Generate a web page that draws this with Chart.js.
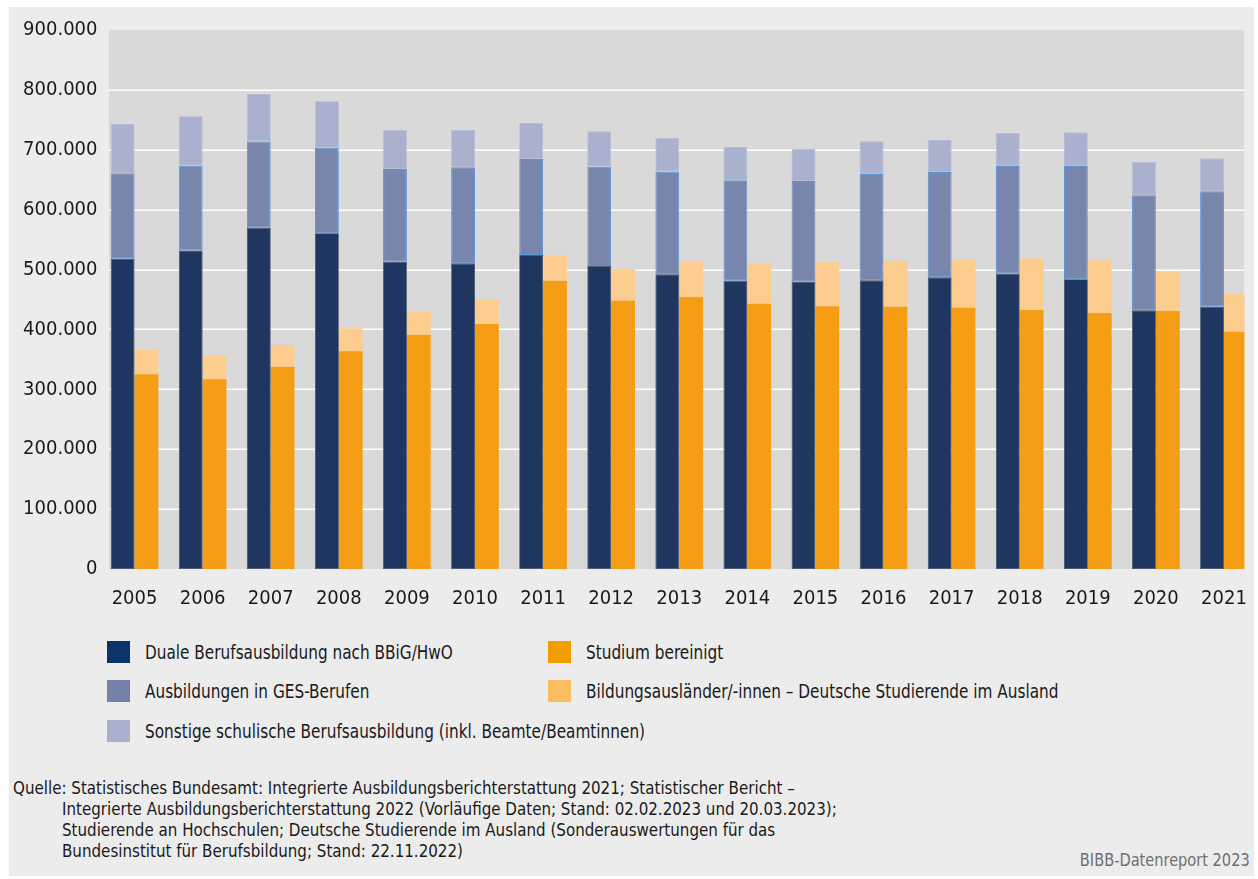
<!DOCTYPE html>
<html lang="de">
<head>
<meta charset="utf-8">
<title>Ausbildungs- und Studienanfänger 2005–2021</title>
<script src="https://cdn.jsdelivr.net/npm/chart.js@4.4.1/dist/chart.umd.min.js"></script>
<style>
  html, body { margin: 0; padding: 0; background: #fff; }
  body { width: 1258px; height: 879px; position: relative; overflow: hidden;
         font-family: "DejaVu Sans Condensed", "Liberation Sans Narrow", sans-serif; color: #1a1a1a; }
  #frame { position: absolute; left: 9px; top: 7px; width: 1245px; height: 869px; background: #ececec; }
  #chart { position: absolute; left: 0; top: 0; }
  .leg { position: absolute; height: 22px; line-height: 22px; white-space: nowrap; }
  .leg i { position: absolute; left: 0; top: 0; width: 23px; height: 22px; }
  .leg span { position: absolute; left: 38px; top: 0; font-size: 20px;
              transform: scaleX(0.85); transform-origin: 0 50%; }
  .src { position: absolute; font-size: 16.8px; line-height: 21px; white-space: nowrap; }
  #bibb { position: absolute; right: 8px; top: 849px; font-size: 18px; color: #707070; white-space: nowrap;
          transform: scaleX(0.9); transform-origin: 100% 50%; }
</style>
</head>
<body>
<div id="frame"></div>
<canvas id="chart" width="1258" height="620"></canvas>

<div class="leg" style="left:107px;top:641px"><i style="background:#0d3468"></i><span>Duale Berufsausbildung nach BBiG/HwO</span></div>
<div class="leg" style="left:107px;top:680px"><i style="background:#7580ab"></i><span>Ausbildungen in GES-Berufen</span></div>
<div class="leg" style="left:107px;top:720px"><i style="background:#aab0cf"></i><span>Sonstige schulische Berufsausbildung (inkl. Beamte/Beamtinnen)</span></div>
<div class="leg" style="left:548px;top:641px"><i style="background:#f39c00"></i><span>Studium bereinigt</span></div>
<div class="leg" style="left:548px;top:680px"><i style="background:#fbbd5f"></i><span>Bildungsausländer/-innen – Deutsche Studierende im Ausland</span></div>

<div class="src" style="left:13px;top:778px">Quelle: Statistisches Bundesamt: Integrierte Ausbildungsberichterstattung 2021; Statistischer Bericht –</div>
<div class="src" style="left:62px;top:799px">Integrierte Ausbildungsberichterstattung 2022 (Vorläufige Daten; Stand: 02.02.2023 und 20.03.2023);</div>
<div class="src" style="left:62px;top:820px">Studierende an Hochschulen; Deutsche Studierende im Ausland (Sonderauswertungen für das</div>
<div class="src" style="left:62px;top:841px">Bundesinstitut für Berufsbildung; Stand: 22.11.2022)</div>
<div id="bibb">BIBB-Datenreport 2023</div>

<script>
// Jahre (Kategorien)
const years = ['2005', '2006', '2007', '2008', '2009', '2010', '2011', '2012', '2013',
    '2014', '2015', '2016', '2017', '2018', '2019', '2020', '2021'];

// Berufsausbildung (Stapel 1)
const duale = [518000, 532000, 570000, 560500, 513000, 510400, 524300, 506000, 492000,
    481400, 479800, 482000, 487000, 493100, 483700, 431900, 438000];
const ges = [143000, 141500, 144000, 143000, 155000, 160300, 160300, 165800, 171500,
    167600, 168100, 177600, 175900, 179800, 189200, 192000, 192600];
const sonstige = [82000, 82400, 79000, 77500, 65000, 62300, 60100, 59000, 56500,
    55600, 54000, 54500, 53400, 55100, 56200, 55700, 55100];

// Studium (Stapel 2)
const studium = [325000, 316700, 337800, 363500, 391300, 409000, 481400, 448000, 454200,
    443000, 438600, 438000, 436400, 432500, 427500, 430800, 396300];
const bildungsauslaender = [41800, 39300, 36800, 38400, 37700, 40700, 42600, 53000, 60100,
    67400, 73400, 76800, 81200, 86300, 87900, 65700, 63400];

// Achse
const yMax = 900000;
const yStep = 100000;

// Grauer Plotbereich + weiße Gitterlinien
const plotBg = {
    id: 'plotBg',
    beforeDraw(chart) {
        const {ctx, chartArea, scales} = chart;
        const left = 109, right = 1244;
        ctx.save();
        ctx.fillStyle = '#d9d9d9';
        ctx.fillRect(left, chartArea.top, right - left, chartArea.bottom - chartArea.top);
        ctx.strokeStyle = '#ffffff';
        ctx.lineWidth = 1.5;
        for (let v = yStep; v < yMax; v += yStep) {
            const y = Math.round(scales.y.getPixelForValue(v)) + 0.25;
            ctx.beginPath();
            ctx.moveTo(left, y);
            ctx.lineTo(right, y);
            ctx.stroke();
        }
        ctx.restore();
    }
};

function fmtDe(v) {
    return String(v).replace(/\B(?=(\d{3})+(?!\d))/g, '.');
}

const font = {family: '"DejaVu Sans Condensed", "Liberation Sans Narrow", sans-serif', size: 20};
const clipRight = {left: 0, top: 0, right: -13.5, bottom: 0};

new Chart(document.getElementById('chart'), {
    type: 'bar',
    data: {
        labels: years,
        datasets: [
            {label: 'Duale Berufsausbildung nach BBiG/HwO', data: duale, stack: 'beruf',
                backgroundColor: '#1f3660', borderColor: '#3b4663', borderWidth: 0.8, borderSkipped: false},
            {label: 'Ausbildungen in GES-Berufen', data: ges, stack: 'beruf',
                backgroundColor: '#7886ae', borderColor: '#5b93d6', borderWidth: 1, borderSkipped: false},
            {label: 'Sonstige schulische Berufsausbildung (inkl. Beamte/Beamtinnen)', data: sonstige, stack: 'beruf',
                backgroundColor: '#aab1ce', borderColor: '#b4bad4', borderWidth: 0.8, borderSkipped: false},
            {label: 'Studium bereinigt', data: studium, stack: 'studium', clip: clipRight,
                backgroundColor: '#f59e15', borderWidth: 0},
            {label: 'Bildungsausländer/-innen – Deutsche Studierende im Ausland', data: bildungsauslaender,
                stack: 'studium', clip: clipRight, backgroundColor: '#fccd8f', borderWidth: 0}
        ]
    },
    options: {
        responsive: false,
        animation: false,
        layout: {padding: {top: 30, left: 0, right: 0, bottom: 0}},
        datasets: {bar: {categoryPercentage: 0.7, barPercentage: 1.0}},
        plugins: {legend: {display: false}, tooltip: {enabled: false}},
        scales: {
            x: {
                stacked: true,
                grid: {display: false, drawTicks: false},
                border: {display: false},
                ticks: {color: '#1a1a1a', font, padding: 18, maxRotation: 0, autoSkip: false},
                afterFit: s => {
                    s.height = 51;
                    s.paddingLeft = 0;
                    s.paddingRight = 0;
                }
            },
            y: {
                stacked: true,
                min: 0,
                max: yMax,
                grid: {display: false, drawTicks: false},
                border: {display: false},
                ticks: {stepSize: yStep, color: '#1a1a1a', font, padding: 3, callback: v => fmtDe(v)},
                afterFit: s => { s.width = 100.5; }
            }
        }
    },
    plugins: [plotBg]
});
</script>
</body>
</html>
